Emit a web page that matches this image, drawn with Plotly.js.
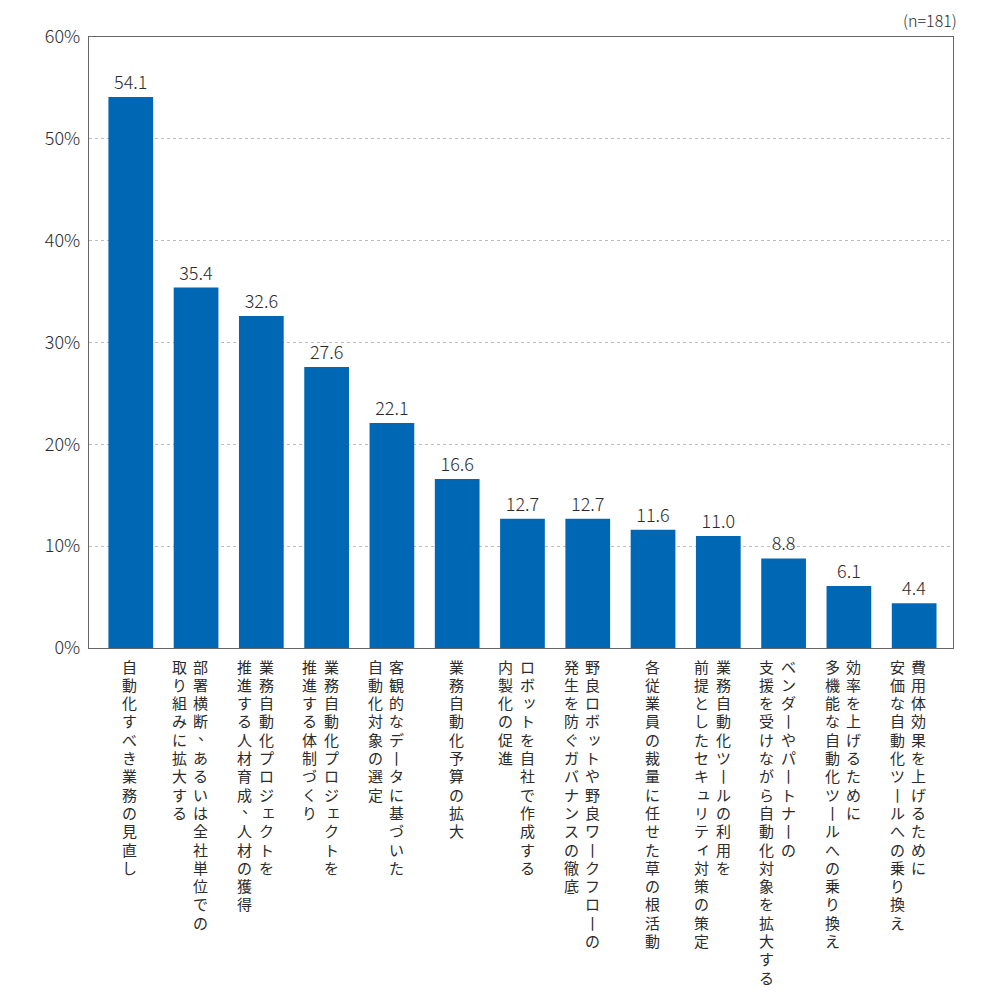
<!DOCTYPE html>
<html>
<head>
<meta charset="utf-8">
<script src="https://cdn.plot.ly/plotly-3.0.1.min.js"></script>
<style>
  html, body { margin: 0; padding: 0; background: #ffffff; }
  #chart { width: 1000px; height: 1000px; }
</style>
</head>
<body>
<div id="chart"></div>
<script>
// ---- Data ----
const labelLines = [
  ["自動化すべき業務の見直し"],
  ["部署横断、あるいは全社単位での", "取り組みに拡大する"],
  ["業務自動化プロジェクトを", "推進する人材育成、人材の獲得"],
  ["業務自動化プロジェクトを", "推進する体制づくり"],
  ["客観的なデータに基づいた", "自動化対象の選定"],
  ["業務自動化予算の拡大"],
  ["ロボットを自社で作成する", "内製化の促進"],
  ["野良ロボットや野良ワークフローの", "発生を防ぐガバナンスの徹底"],
  ["各従業員の裁量に任せた草の根活動"],
  ["業務自動化ツールの利用を", "前提としたセキュリティ対策の策定"],
  ["ベンダーやパートナーの", "支援を受けながら自動化対象を拡大する"],
  ["効率を上げるために", "多機能な自動化ツールへの乗り換え"],
  ["費用体効果を上げるために", "安価な自動化ツールへの乗り換え"]
];
const categories = labelLines.map(l => l.join(""));
const values = [54.1, 35.4, 32.6, 27.6, 22.1, 16.6, 12.7, 12.7, 11.6, 11.0, 8.8, 6.1, 4.4];
const yTickVals = [0, 10, 20, 30, 40, 50, 60];
const yTickText = ["0%", "10%", "20%", "30%", "40%", "50%", "60%"];
const sampleNote = "(n=181)";

// ---- Styling ----
const FONT = "'Noto Sans CJK JP', 'Noto Sans', sans-serif";
const TEXT_COLOR = "#2b2b2b";
const BAR_COLOR = "#0067b4";

const CHAR_SIZE = 15;
const CHAR_PITCH = 18.3;
const COL_PITCH = 21.5;
const FIRST_CHAR_OFFSET = 17.5;
const smallKana = "ッャュョェィァォぁぃぅぇぉっゃゅょ";

// vertical text: each character as its own annotation, positioned from the category axis
const annotations = [];
categories.forEach((cat, ci) => {
  const cols = labelLines[ci];
  const n = cols.length;
  cols.forEach((line, j) => {
    const colShift = -1 + ((n - 1) / 2 - j) * COL_PITCH - (n - 1) * 5;
    Array.from(line).forEach((ch, k) => {
      let c = ch;
      let dx = 0, dy = 0;
      if (c === "ー") c = "丨";
      if (smallKana.includes(c)) { dx = 2; dy = 2; }
      if (c === "、") { dx = 5; dy = 6; }
      annotations.push({
        xref: "x", yref: "paper",
        x: cat, y: 0,
        xanchor: "center", yanchor: "middle",
        xshift: colShift + dx,
        yshift: -(FIRST_CHAR_OFFSET + k * CHAR_PITCH) + dy,
        width: 19, height: 18, borderpad: 0,
        text: c,
        showarrow: false,
        font: { family: FONT, size: CHAR_SIZE, color: TEXT_COLOR }
      });
    });
  });
});

annotations.push({
  xref: "paper", yref: "paper", x: 1, y: 1,
  xanchor: "right", yanchor: "bottom",
  xshift: 6, yshift: 3,
  text: sampleNote, showarrow: false,
  font: { family: FONT, size: 16, color: TEXT_COLOR, weight: 300 }
});

const trace = {
  type: "bar",
  x: categories,
  y: values,
  width: 0.685,
  marker: { color: BAR_COLOR, line: { width: 0 } },
  text: values.map(v => v.toFixed(1)),
  textposition: "outside",
  textfont: { family: FONT, size: 18, color: TEXT_COLOR, weight: 300 },
  cliponaxis: false,
  hoverinfo: "skip"
};

const layout = {
  width: 1000, height: 1000,
  margin: { l: 89, r: 47, t: 37, b: 352, pad: 0 },
  paper_bgcolor: "#ffffff",
  plot_bgcolor: "#ffffff",
  showlegend: false,
  font: { family: FONT, color: TEXT_COLOR },
  xaxis: {
    type: "category",
    range: [-0.64, 12.595],
    showticklabels: false,
    ticks: "",
    showgrid: false,
    zeroline: false,
    showline: true, mirror: true,
    linecolor: "#666666", linewidth: 1.2
  },
  yaxis: {
    range: [0, 60],
    tickvals: yTickVals,
    ticktext: yTickText,
    tickfont: { family: FONT, size: 18, color: TEXT_COLOR, weight: 300 },
    ticks: "",
    ticklabelstandoff: 4,
    showgrid: true,
    gridcolor: "#bdbdbd",
    griddash: "3px,3px",
    gridwidth: 1,
    zeroline: false,
    showline: true, mirror: true,
    linecolor: "#666666", linewidth: 1.2
  },
  annotations: annotations
};

Plotly.newPlot("chart", [trace], layout, { staticPlot: true, displayModeBar: false });
</script>
</body>
</html>
